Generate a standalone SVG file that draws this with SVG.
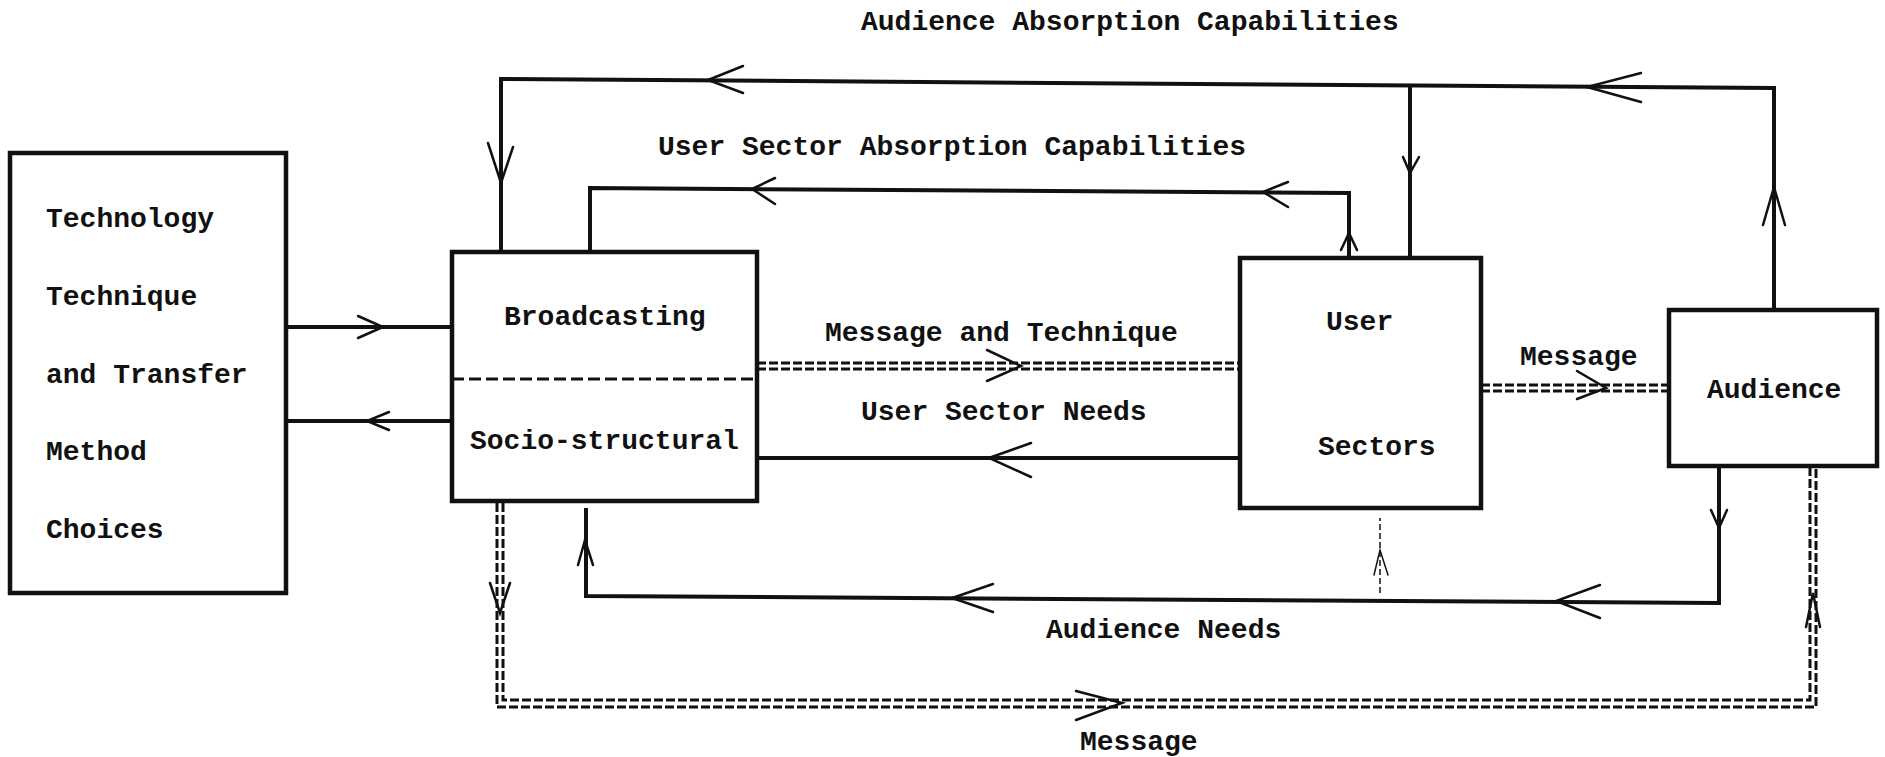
<svg xmlns="http://www.w3.org/2000/svg" width="1885" height="757" viewBox="0 0 1885 757">
<style>
.box{fill:none;stroke:#111;stroke-width:4.5}
.t{font-family:"Liberation Mono","DejaVu Sans Mono",monospace;font-weight:bold;font-size:28px;fill:#111}
.s{fill:none;stroke:#111;stroke-width:4}
.thin{fill:none;stroke:#111;stroke-width:1.5;stroke-dasharray:6 3}
.dd{fill:none;stroke:#111;stroke-width:3;stroke-dasharray:9 3}
.ah{fill:none;stroke:#111;stroke-width:2.5;stroke-linecap:round;stroke-linejoin:miter}
.div{fill:none;stroke:#111;stroke-width:3;stroke-dasharray:12 5}
</style>
<rect width="1885" height="757" fill="#fff"/>
<g id="connectors">
  <!-- Tech <-> Broadcasting -->
  <path class="s" d="M286,327 H452"/>
  <path class="ah" d="M358,316 L383,327 L358,338"/>
  <path class="s" d="M452,421 H286"/>
  <path class="ah" d="M389,412 L367,421 L389,430"/>
  <!-- Message and Technique -->
  <path class="dd" d="M757,363 H1240"/>
  <path class="dd" d="M757,369 H1240"/>
  <path class="ah" d="M987,350 L1021,366 L987,381"/>
  <!-- User Sector Needs -->
  <path class="s" d="M1240,458 H757"/>
  <path class="ah" d="M1031,443 L989,458 L1031,477"/>
  <!-- Message user -> audience -->
  <path class="dd" d="M1481,385 H1669"/>
  <path class="dd" d="M1481,391 H1669"/>
  <path class="ah" d="M1577,371 L1606,388 L1577,399"/>
  <!-- Audience Absorption Capabilities loop -->
  <path class="s" d="M1774,310 V88 L501,79 V252"/>
  <path class="ah" d="M1763,225 L1774,187 L1785,225"/>
  <path class="ah" d="M1641,73 L1587,87 L1641,102"/>
  <path class="ah" d="M743,66 L708,80 L743,93"/>
  <path class="ah" d="M488,143 L501,183 L513,147"/>
  <path class="s" d="M1410,87 V258"/>
  <path class="ah" d="M1403,157 L1410,173 L1419,157"/>
  <!-- User Sector Absorption Capabilities loop -->
  <path class="s" d="M1349,258 V193 L590,188 V252"/>
  <path class="ah" d="M1341,250 L1349,233 L1357,250"/>
  <path class="ah" d="M1288,182 L1263,192 L1288,207"/>
  <path class="ah" d="M775,178 L752,189 L775,204"/>
  <!-- Audience Needs loop -->
  <path class="s" d="M1719,467 V603 L586,596 V508"/>
  <path class="ah" d="M1711,510 L1719,528 L1727,510"/>
  <path class="ah" d="M1600,585 L1556,601 L1600,618"/>
  <path class="ah" d="M993,584 L952,598 L993,612"/>
  <path class="ah" d="M578,565 L585,540 L593,565"/>
  <path class="thin" d="M1380,593 V518"/>
  <path class="ah" style="stroke-width:1.5" d="M1374,575 L1380,550 L1388,575"/>
  <!-- Bottom Message loop -->
  <path class="dd" d="M497,503 V707 H1816 V467"/>
  <path class="dd" d="M503,503 V700 H1810 V467"/>
  <path class="ah" d="M490,583 L500,613 L510,583"/>
  <path class="ah" d="M1076,691 L1122,703 L1076,720"/>
  <path class="ah" d="M1806,627 L1813,593 L1820,627"/>
</g>
<g id="node-tech">
  <rect class="box" x="10" y="153" width="276" height="440"/>
  <text class="t" x="46" y="227">Technology</text>
  <text class="t" x="46" y="305">Technique</text>
  <text class="t" x="46" y="383">and Transfer</text>
  <text class="t" x="46" y="460">Method</text>
  <text class="t" x="46" y="538">Choices</text>
</g>
<g id="node-broadcasting">
  <rect class="box" x="452" y="252" width="305" height="249"/>
  <path class="div" d="M452,379 H757"/>
  <text class="t" x="504" y="325">Broadcasting</text>
  <text class="t" x="470" y="449">Socio-structural</text>
</g>
<g id="node-user-sectors">
  <rect class="box" x="1240" y="258" width="241" height="250"/>
  <text class="t" x="1326" y="330">User</text>
  <text class="t" x="1318" y="455">Sectors</text>
</g>
<g id="node-audience">
  <rect class="box" x="1669" y="310" width="208" height="156"/>
  <text class="t" x="1707" y="398">Audience</text>
</g>
<g id="labels">
  <text class="t" x="861" y="30">Audience Absorption Capabilities</text>
  <text class="t" x="658" y="155">User Sector Absorption Capabilities</text>
  <text class="t" x="825" y="341">Message and Technique</text>
  <text class="t" x="861" y="420">User Sector Needs</text>
  <text class="t" x="1520" y="365">Message</text>
  <text class="t" x="1046" y="638">Audience Needs</text>
  <text class="t" x="1080" y="750">Message</text>
</g>
</svg>
